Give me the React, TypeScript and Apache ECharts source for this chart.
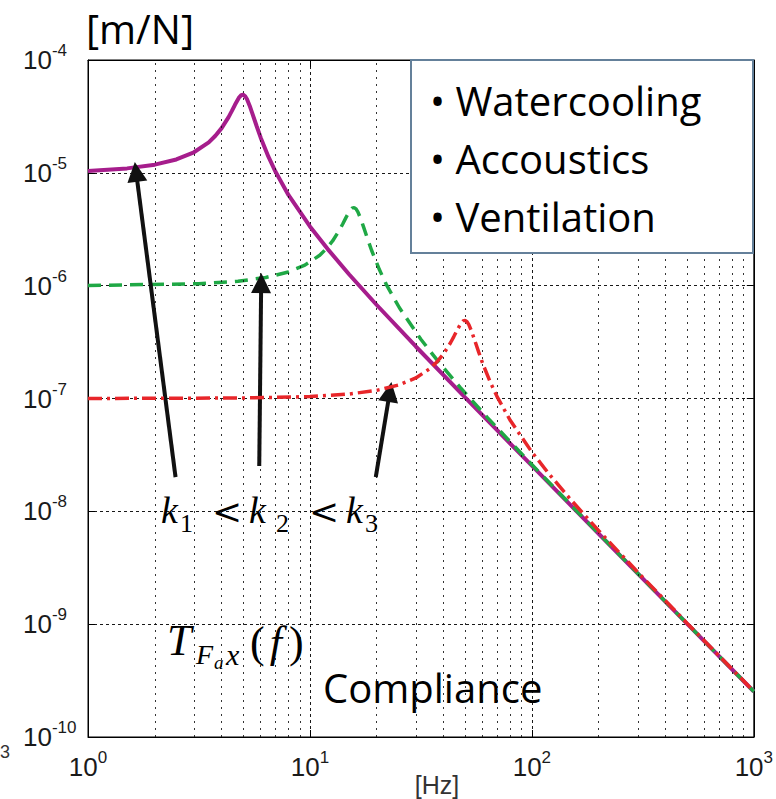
import React, { useEffect, useRef } from "react";
import * as echarts from "echarts";

// Compliance curves: frequency [Hz] and value [m/N]
const magentaFreq = [1, 1.5, 2, 2.5, 3, 3.5, 3.75, 4, 4.3, 4.45, 4.6, 4.8, 4.9, 5.0, 5.1, 5.2, 5.35, 5.5, 5.75, 6, 6.5, 7, 8, 10, 12, 15, 20, 30, 50, 100, 200, 500, 1000];
const magentaVal = [1.04e-5, 1.095e-5, 1.181e-5, 1.314e-5, 1.521e-5, 1.859e-5, 2.13e-5, 2.49e-5, 3.12e-5, 3.54e-5, 4.03e-5, 4.67e-5, 4.87e-5, 4.92e-5, 4.79e-5, 4.51e-5, 3.94e-5, 3.37e-5, 2.6e-5, 2.05e-5, 1.389e-5, 1.022e-5, 6.37e-6, 3.35e-6, 2.12e-6, 1.263e-6, 6.74e-7, 2.89e-7, 1.022e-7, 2.537e-8, 6.33e-9, 1.01e-9, 2.53e-10];

const greenFreq = [1, 3.16, 4.74, 6.32, 7.91, 9.49, 11.07, 11.86, 12.65, 13.6, 14.07, 14.55, 15.18, 15.49, 15.81, 16.13, 16.44, 16.92, 17.39, 18.18, 18.97, 20.55, 22.1, 25.3, 31.6, 37.9, 47.4, 63.2, 94.9, 158, 316, 632, 1000];
const greenVal = [1.004e-6, 1.04e-6, 1.095e-6, 1.181e-6, 1.314e-6, 1.521e-6, 1.859e-6, 2.13e-6, 2.49e-6, 3.12e-6, 3.54e-6, 4.03e-6, 4.67e-6, 4.87e-6, 4.92e-6, 4.79e-6, 4.51e-6, 3.94e-6, 3.37e-6, 2.6e-6, 2.05e-6, 1.389e-6, 1.022e-6, 6.37e-7, 3.35e-7, 2.12e-7, 1.263e-7, 6.74e-8, 2.89e-8, 1.022e-8, 2.537e-9, 6.33e-10, 2.53e-10];

const redFreq = [1, 5, 10, 15, 20, 25, 30, 35, 37.5, 40, 43, 44.5, 46, 48, 49, 50, 51, 52, 53.5, 55, 57.5, 60, 65, 70, 80, 100, 120, 150, 200, 300, 500, 1000];
const redVal = [1.0e-7, 1.01e-7, 1.04e-7, 1.095e-7, 1.181e-7, 1.314e-7, 1.521e-7, 1.859e-7, 2.13e-7, 2.49e-7, 3.12e-7, 3.54e-7, 4.03e-7, 4.67e-7, 4.87e-7, 4.92e-7, 4.79e-7, 4.51e-7, 3.94e-7, 3.37e-7, 2.6e-7, 2.05e-7, 1.389e-7, 1.022e-7, 6.37e-8, 3.35e-8, 2.12e-8, 1.263e-8, 6.74e-9, 2.89e-9, 1.022e-9, 2.537e-10];

// Arrow annotations (tail -> head) in data coordinates [Hz, m/N]
const arrowTails = [[2.48, 2.01e-8], [5.91, 2.52e-8], [19.8, 2.01e-8]];
const arrowHeads = [[1.647, 1.019e-5], [6.03, 1.055e-6], [22.9, 1.143e-7]];

// Axis ranges (decades)
const xDecades = [1, 10, 100, 1000];
const yDecades = [1e-10, 1e-9, 1e-8, 1e-7, 1e-6, 1e-5, 1e-4];

const legendItems = ["Watercooling", "Accoustics", "Ventilation"];

const pairs = (xs: number[], ys: number[]) => xs.map((x, i) => [x, ys[i]]);

const minorOf = (decs: number[]) => {
  const out: number[] = [];
  for (let i = 0; i < decs.length - 1; i++) {
    for (let m = 2; m <= 9; m++) out.push(decs[i] * m);
  }
  return out;
};

const tickRich = {
  b: { fontSize: 26, lineHeight: 36, fontFamily: "Liberation Sans", color: "#1a1a1a" },
  s: { fontSize: 17, lineHeight: 16, verticalAlign: "top", fontFamily: "Liberation Sans", color: "#1a1a1a" },
};
const powFmt = (v: number) => `{b|10}{s|${Math.round(Math.log10(v))}}`;

const txt = (x: number, y: number, text: string, size: number, family: string, extra: any = {}) => ({
  type: "text",
  x,
  y,
  z: 200,
  style: {
    text,
    fontSize: size,
    fontFamily: family,
    fill: extra.fill || "#000",
    fontStyle: extra.italic ? "italic" : "normal",
    align: extra.align || "left",
    textAlign: extra.align || "left",
    verticalAlign: "middle",
    textVerticalAlign: "middle",
    ...(extra.rich ? { rich: extra.rich } : {}),
  },
});

const boxAxis = (extra: any) => ({
  type: "log",
  logBase: 10,
  axisLine: { show: true, lineStyle: { color: "#000", width: 1 } },
  axisTick: { show: true, inside: true, length: 7, lineStyle: { color: "#000" } },
  axisLabel: { show: false },
  splitLine: { show: false },
  ...extra,
});

export default function App() {
  const ref = useRef<HTMLDivElement>(null);
  useEffect(() => {
    const chart = echarts.init(ref.current!, null, { renderer: "svg" });
    const serif = "Liberation Serif";
    const xMin = xDecades[0];
    const xMax = xDecades[xDecades.length - 1];
    const yMin = yDecades[0];
    const yMax = yDecades[yDecades.length - 1];
    const option: any = {
      animation: false,
      backgroundColor: "#fff",
      grid: { left: 88, right: 19, top: 60, bottom: 62, show: true, borderColor: "#000", borderWidth: 1, backgroundColor: "transparent" },
      xAxis: [
        {
          type: "log",
          logBase: 10,
          min: xMin,
          max: xMax,
          splitNumber: 3,
          axisLine: { show: true, lineStyle: { color: "#000", width: 1 } },
          axisTick: { show: true, inside: true, length: 7, lineStyle: { color: "#000" } },
          splitLine: { show: true, lineStyle: { color: "#000", width: 1, type: [3, 3], opacity: 0.9 } },
          axisLabel: { formatter: powFmt, rich: tickRich, margin: 12, fontSize: 26 },
        },
        boxAxis({ position: "top", min: xMin, max: xMax, splitNumber: 3 }),
      ],
      yAxis: [
        {
          type: "log",
          logBase: 10,
          min: yMin,
          max: yMax,
          splitNumber: 6,
          axisLine: { show: true, lineStyle: { color: "#000", width: 1 } },
          axisTick: { show: true, inside: true, length: 7, lineStyle: { color: "#000" } },
          splitLine: { show: true, lineStyle: { color: "#000", width: 1, type: [3, 3], opacity: 0.9 } },
          axisLabel: { formatter: powFmt, rich: tickRich, margin: 65, align: "left", fontSize: 26 },
        },
        boxAxis({ position: "right", min: yMin, max: yMax, splitNumber: 6 }),
      ],
      series: [
        {
          type: "line",
          data: [[1, 1e-10]],
          symbol: "none",
          lineStyle: { opacity: 0 },
          silent: true,
          z: 1,
          markLine: {
            silent: true,
            symbol: ["none", "none"],
            label: { show: false },
            lineStyle: { color: "#111", width: 1, type: [2, 5], opacity: 0.85 },
            emphasis: { disabled: true },
            data: [
              ...minorOf(xDecades).map((v) => ({ xAxis: v })),
              ...minorOf(yDecades).map((v) => ({ yAxis: v })),
            ],
          },
        },
        {
          type: "line",
          data: pairs(magentaFreq, magentaVal),
          symbol: "none",
          lineStyle: { color: "#a61d8c", width: 4 },
          z: 3,
        },
        {
          type: "line",
          data: pairs(greenFreq, greenVal),
          symbol: "none",
          lineStyle: { color: "#1fa845", width: 3.5, type: [13, 8] },
          z: 4,
        },
        {
          type: "line",
          data: pairs(redFreq, redVal),
          symbol: "none",
          lineStyle: { color: "#e8262a", width: 3.5, type: [14, 5, 3, 5] },
          z: 5,
        },
        {
          type: "line",
          data: [],
          z: 6,
          markLine: {
            silent: true,
            symbol: ["none", "triangle"],
            symbolSize: 20,
            label: { show: false },
            lineStyle: { color: "#111", width: 4, type: "solid" },
            emphasis: { disabled: true },
            data: arrowTails.map((t, i) => [{ coord: t }, { coord: arrowHeads[i] }]),
          },
        },
      ],
      graphic: [
        txt(86, 28, "[m/N]", 40, "Open Sans"),
        txt(437, 785, "[Hz]", 25, "Liberation Sans", { fill: "#333", align: "center" }),
        txt(0, 752, "3", 18, "Liberation Sans", { fill: "#333" }),
        {
          type: "rect",
          z: 150,
          shape: { x: 411, y: 60, width: 342, height: 193 },
          style: { fill: "#fff", stroke: "#64809a", lineWidth: 2 },
        },
        ...legendItems.map((t, i) => txt(430, 100 + i * 58, "\u2022 " + t, 40, "Open Sans")),
        txt(323, 687, "Compliance", 40, "Open Sans"),
        // k1 < k2 < k3
        txt(161, 510, "k", 38, serif, { italic: true }),
        txt(180, 523, "1", 26, serif),
        txt(212, 511, "<", 36, "DejaVu Serif"),
        txt(249, 510, "k", 38, serif, { italic: true }),
        txt(276, 523, "2", 26, serif),
        txt(309, 511, "<", 36, "DejaVu Serif"),
        txt(346, 510, "k", 38, serif, { italic: true }),
        txt(365, 523, "3", 26, serif),
        // T_{F_a x}(f)
        txt(167, 640, "T", 44, serif, { italic: true }),
        txt(196, 654, "F", 28, serif, { italic: true }),
        txt(214, 662, "a", 19, serif, { italic: true }),
        txt(226, 654, "x", 30, serif, { italic: true }),
        txt(250, 642, "{p|(}{i|f}{p|)}", 44, serif, {
          rich: {
            p: { fontSize: 44, fontFamily: serif, fontStyle: "normal" },
            i: { fontSize: 44, fontFamily: serif, fontStyle: "italic", padding: [0, 7, 0, 5] },
          },
        }),
      ],
    };
    chart.setOption(option);
    return () => chart.dispose();
  }, []);
  return (
    <div
      ref={ref}
      style={{ position: "absolute", left: 0, top: 0, width: 776, height: 799, background: "#fff" }}
    />
  );
}
